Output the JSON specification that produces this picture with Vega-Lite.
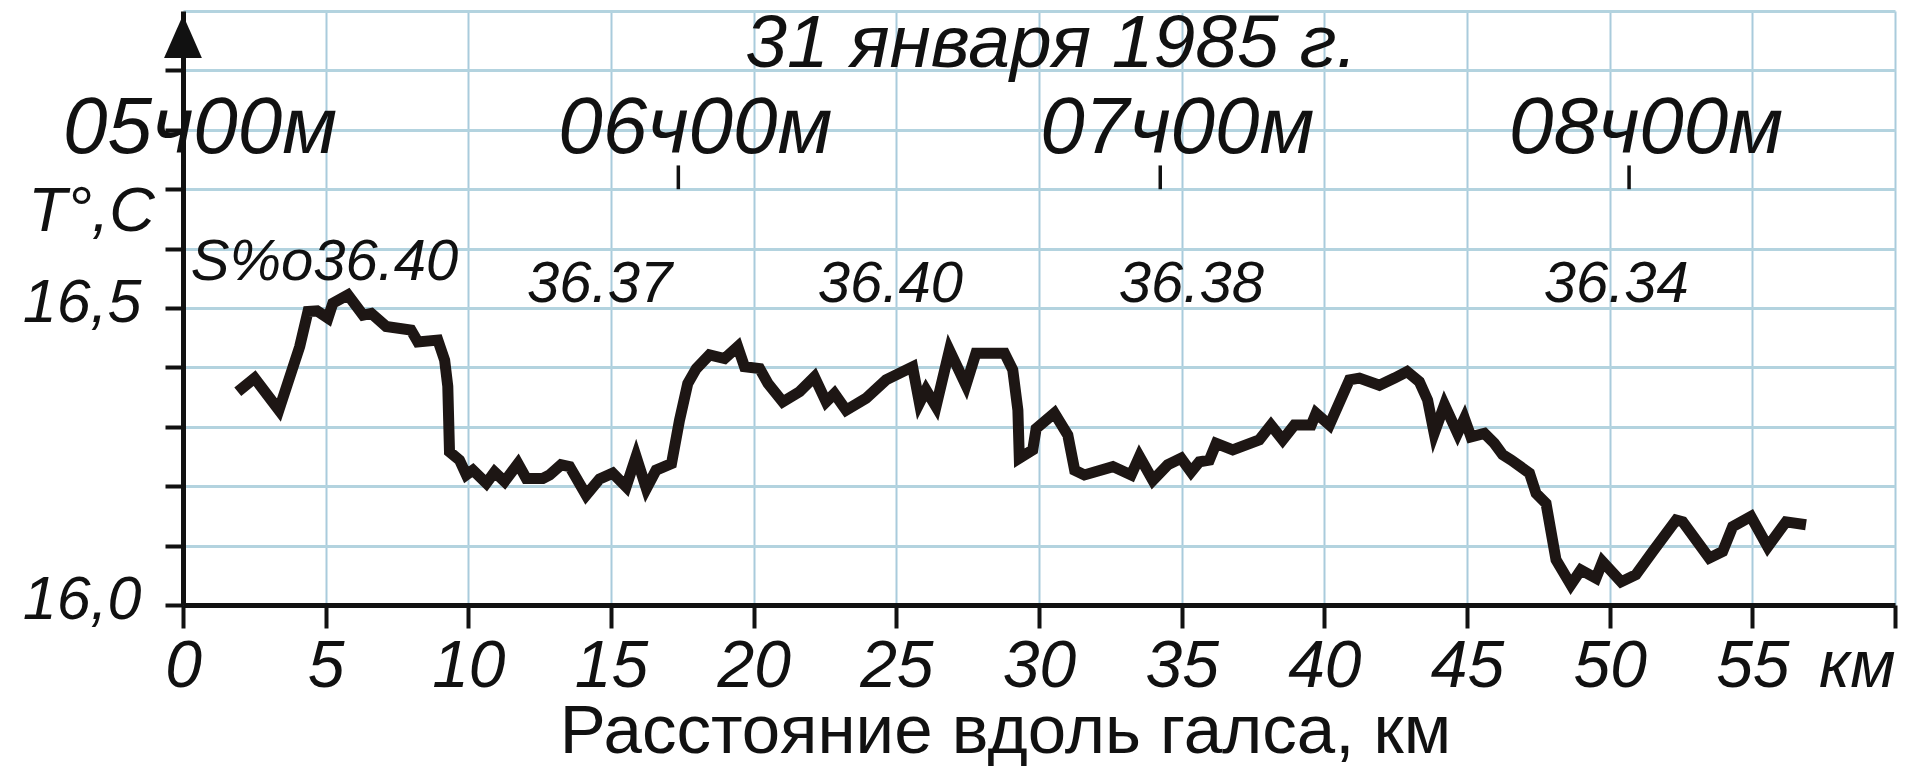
{
  "$schema": "https://vega.github.io/schema/vega-lite/v6.json",
  "width": 1712,
  "height": 594,
  "autosize": "none",
  "padding": {"left": 183, "top": 11, "right": 10, "bottom": 161},
  "background": "white",
  "config": {"view": {"stroke": null}, "font": "Liberation Sans"},
  "datasets": {
    "temp": [
      {"km": 1.92, "t": 16.359}, {"km": 2.51, "t": 16.382}, {"km": 3.36, "t": 16.328}, {"km": 4.09, "t": 16.435},
      {"km": 4.38, "t": 16.494}, {"km": 4.70, "t": 16.495}, {"km": 5.08, "t": 16.483}, {"km": 5.25, "t": 16.508},
      {"km": 5.78, "t": 16.522}, {"km": 6.31, "t": 16.488}, {"km": 6.60, "t": 16.491}, {"km": 7.12, "t": 16.469},
      {"km": 7.99, "t": 16.463}, {"km": 8.23, "t": 16.443}, {"km": 8.93, "t": 16.446}, {"km": 9.17, "t": 16.412},
      {"km": 9.28, "t": 16.368}, {"km": 9.34, "t": 16.258}, {"km": 9.69, "t": 16.244}, {"km": 9.93, "t": 16.219},
      {"km": 10.16, "t": 16.227}, {"km": 10.63, "t": 16.205}, {"km": 10.92, "t": 16.224}, {"km": 11.27, "t": 16.208},
      {"km": 11.74, "t": 16.238}, {"km": 12.03, "t": 16.213}, {"km": 12.61, "t": 16.213}, {"km": 12.85, "t": 16.219},
      {"km": 13.25, "t": 16.236}, {"km": 13.55, "t": 16.233}, {"km": 14.13, "t": 16.185}, {"km": 14.60, "t": 16.212},
      {"km": 15.06, "t": 16.222}, {"km": 15.53, "t": 16.199}, {"km": 15.88, "t": 16.250}, {"km": 16.24, "t": 16.196},
      {"km": 16.58, "t": 16.227}, {"km": 17.12, "t": 16.238}, {"km": 17.40, "t": 16.311}, {"km": 17.69, "t": 16.373},
      {"km": 17.99, "t": 16.398}, {"km": 18.45, "t": 16.421}, {"km": 18.98, "t": 16.415}, {"km": 19.44, "t": 16.435},
      {"km": 19.68, "t": 16.401}, {"km": 20.21, "t": 16.398}, {"km": 20.50, "t": 16.373}, {"km": 21.02, "t": 16.342},
      {"km": 21.61, "t": 16.359}, {"km": 22.13, "t": 16.384}, {"km": 22.54, "t": 16.342}, {"km": 22.83, "t": 16.356},
      {"km": 23.24, "t": 16.328}, {"km": 23.94, "t": 16.348}, {"km": 24.64, "t": 16.379}, {"km": 25.57, "t": 16.401},
      {"km": 25.81, "t": 16.340}, {"km": 26.04, "t": 16.362}, {"km": 26.39, "t": 16.334}, {"km": 26.86, "t": 16.429},
      {"km": 27.44, "t": 16.370}, {"km": 27.79, "t": 16.424}, {"km": 28.79, "t": 16.424}, {"km": 29.08, "t": 16.396},
      {"km": 29.26, "t": 16.328}, {"km": 29.31, "t": 16.247}, {"km": 29.78, "t": 16.261}, {"km": 29.90, "t": 16.297},
      {"km": 30.54, "t": 16.323}, {"km": 31.01, "t": 16.286}, {"km": 31.25, "t": 16.227}, {"km": 31.59, "t": 16.219},
      {"km": 32.59, "t": 16.233}, {"km": 33.23, "t": 16.219}, {"km": 33.52, "t": 16.250}, {"km": 33.99, "t": 16.210},
      {"km": 34.51, "t": 16.236}, {"km": 34.98, "t": 16.247}, {"km": 35.33, "t": 16.224}, {"km": 35.62, "t": 16.241},
      {"km": 35.97, "t": 16.244}, {"km": 36.21, "t": 16.272}, {"km": 36.79, "t": 16.261}, {"km": 37.72, "t": 16.278},
      {"km": 38.13, "t": 16.303}, {"km": 38.54, "t": 16.278}, {"km": 38.95, "t": 16.303}, {"km": 39.54, "t": 16.303},
      {"km": 39.71, "t": 16.323}, {"km": 40.18, "t": 16.303}, {"km": 40.88, "t": 16.379}, {"km": 41.23, "t": 16.382},
      {"km": 41.93, "t": 16.370}, {"km": 42.46, "t": 16.382}, {"km": 42.90, "t": 16.393}, {"km": 43.33, "t": 16.376},
      {"km": 43.62, "t": 16.345}, {"km": 43.85, "t": 16.289}, {"km": 44.21, "t": 16.337}, {"km": 44.67, "t": 16.289},
      {"km": 44.91, "t": 16.314}, {"km": 45.14, "t": 16.283}, {"km": 45.61, "t": 16.289}, {"km": 45.96, "t": 16.272},
      {"km": 46.25, "t": 16.253}, {"km": 46.55, "t": 16.244}, {"km": 47.19, "t": 16.222}, {"km": 47.42, "t": 16.188},
      {"km": 47.77, "t": 16.171}, {"km": 48.12, "t": 16.076}, {"km": 48.64, "t": 16.034}, {"km": 48.99, "t": 16.059},
      {"km": 49.52, "t": 16.045}, {"km": 49.75, "t": 16.073}, {"km": 50.40, "t": 16.039}, {"km": 50.92, "t": 16.051},
      {"km": 51.51, "t": 16.090}, {"km": 52.33, "t": 16.143}, {"km": 52.56, "t": 16.140}, {"km": 53.49, "t": 16.079},
      {"km": 53.96, "t": 16.090}, {"km": 54.31, "t": 16.132}, {"km": 54.95, "t": 16.149}, {"km": 55.54, "t": 16.098},
      {"km": 56.18, "t": 16.140}, {"km": 56.88, "t": 16.135}
    ],
    "time": [
      {"km": 0, "time": "05ч00м"},
      {"km": 17.36, "time": "06ч00м"},
      {"km": 34.25, "time": "07ч00м"},
      {"km": 50.68, "time": "08ч00м"}
    ],
    "sal": [
      {"km": 4.96, "s": "S%o36.40", "first": true},
      {"km": 14.60, "s": "36.37", "first": false},
      {"km": 24.79, "s": "36.40", "first": false},
      {"km": 35.34, "s": "36.38", "first": false},
      {"km": 50.23, "s": "36.34", "first": false}
    ],
    "heading": [
      {"km": 30.43, "label": "31 января 1985 г."}
    ]
  },
  "layer": [
    {
      "data": {"name": "temp"},
      "mark": {"type": "line", "color": "#1d1614", "strokeWidth": 11, "strokeJoin": "miter", "strokeCap": "butt"},
      "encoding": {
        "x": {
          "field": "km", "type": "quantitative",
          "scale": {"domain": [0, 60], "nice": false, "zero": false},
          "axis": {
            "values": [0, 5, 10, 15, 20, 25, 30, 35, 40, 45, 50, 55, 60],
            "title": "Расстояние вдоль галса, км",
            "titleFont": "Liberation Sans", "titleFontSize": 69, "titleFontWeight": "normal", "titleColor": "#111111",
            "titleX": 822, "titleY": 147, "titleAlign": "center", "titleBaseline": "alphabetic",
            "labelFont": "Liberation Sans", "labelFontSize": 66, "labelFontStyle": "italic", "labelColor": "#111111",
            "labelExpr": "datum.value == 60 ? 'км' : datum.label",
            "labelAlign": {"condition": {"test": "datum.value == 60", "value": "right"}, "value": "center"},
            "labelFlush": false, "labelOverlap": false, "labelBound": false, "labelPadding": 6,
            "domainColor": "#111111", "domainWidth": 5,
            "tickColor": "#111111", "tickWidth": 4, "tickSize": 23,
            "grid": true, "gridColor": "#a9cbdc", "gridWidth": 2
          }
        },
        "y": {
          "field": "t", "type": "quantitative",
          "scale": {"domain": [16, 17], "nice": false, "zero": false},
          "axis": {
            "values": [16, 16.1, 16.2, 16.3, 16.4, 16.5, 16.6, 16.7, 16.8, 16.9, 17],
            "title": "T°,C", "titleAngle": 0, "titleX": -92, "titleY": 219, "titleAlign": "center", "titleBaseline": "alphabetic",
            "titleFont": "Liberation Sans", "titleFontSize": 63, "titleFontStyle": "italic", "titleFontWeight": "normal", "titleColor": "#111111",
            "labelExpr": "datum.value == 16 ? '16,0' : (abs(datum.value - 16.5) < 0.001 ? '16,5' : '')",
            "labelFont": "Liberation Sans", "labelFontSize": 61, "labelFontStyle": "italic", "labelColor": "#111111",
            "labelPadding": 24, "labelBaseline": "middle", "labelOffset": -5,
            "labelFlush": false, "labelOverlap": false, "labelBound": false,
            "tickSize": 18, "tickWidth": 4,
            "tickColor": {"condition": {"test": "datum.value > 16.95", "value": "transparent"}, "value": "#111111"},
            "domainColor": "#111111", "domainWidth": 5,
            "grid": true, "gridColor": "#b3d3df", "gridWidth": 3
          }
        }
      }
    },
    {
      "data": {"name": "time"},
      "mark": {"type": "rule", "color": "#111111", "strokeWidth": 3.5},
      "encoding": {
        "x": {"field": "km", "type": "quantitative"},
        "y": {"datum": 16.700, "type": "quantitative"},
        "y2": {"datum": 16.740}
      }
    },
    {
      "data": {"name": "time"},
      "mark": {"type": "text", "font": "Liberation Sans", "fontSize": 80, "fontStyle": "italic", "color": "#111111", "align": "center", "baseline": "alphabetic", "dx": 17},
      "encoding": {
        "x": {"field": "km", "type": "quantitative"},
        "y": {"datum": 16.761, "type": "quantitative"},
        "text": {"field": "time"}
      }
    },
    {
      "data": {"name": "sal"},
      "transform": [{"filter": "datum.first"}],
      "mark": {"type": "text", "font": "Liberation Sans", "fontSize": 58, "fontStyle": "italic", "color": "#111111", "align": "center", "baseline": "alphabetic"},
      "encoding": {
        "x": {"field": "km", "type": "quantitative"},
        "y": {"datum": 16.547, "type": "quantitative"},
        "text": {"field": "s"}
      }
    },
    {
      "data": {"name": "sal"},
      "transform": [{"filter": "!datum.first"}],
      "mark": {"type": "text", "font": "Liberation Sans", "fontSize": 58, "fontStyle": "italic", "color": "#111111", "align": "center", "baseline": "alphabetic"},
      "encoding": {
        "x": {"field": "km", "type": "quantitative"},
        "y": {"datum": 16.510, "type": "quantitative"},
        "text": {"field": "s"}
      }
    },
    {
      "data": {"name": "heading"},
      "mark": {"type": "text", "font": "Liberation Sans", "fontSize": 75, "fontStyle": "italic", "color": "#111111", "align": "center", "baseline": "alphabetic"},
      "encoding": {
        "x": {"field": "km", "type": "quantitative"},
        "y": {"datum": 16.906, "type": "quantitative"},
        "text": {"field": "label"}
      }
    },
    {
      "data": {"values": [{"km": 0}]},
      "mark": {"type": "point", "shape": "M0,-1L0.88,1L-0.88,1Z", "size": 1849, "filled": true, "color": "#111111", "opacity": 1, "strokeWidth": 0},
      "encoding": {
        "x": {"field": "km", "type": "quantitative"},
        "y": {"datum": 16.957, "type": "quantitative"}
      }
    }
  ]
}
